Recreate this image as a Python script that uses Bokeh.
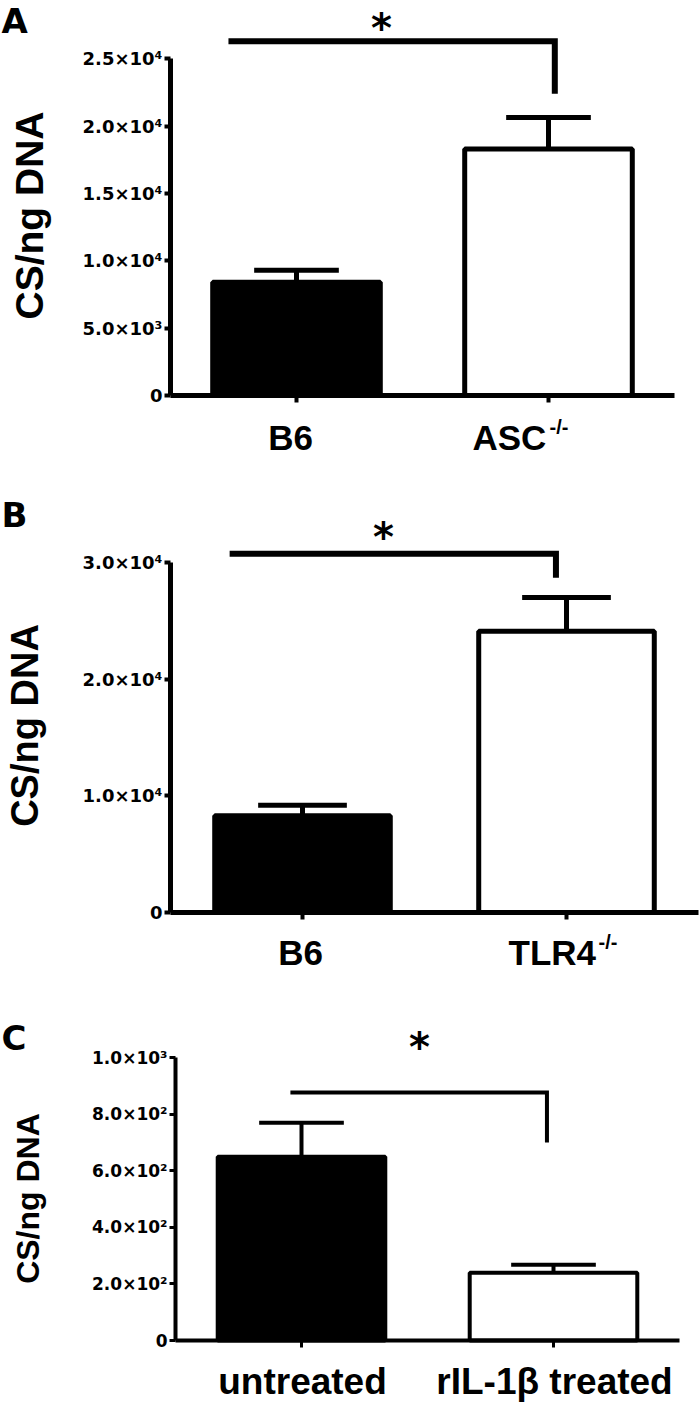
import math
from bokeh.plotting import figure
from bokeh.layouts import column
from bokeh.models import Range1d, FixedTicker
from bokeh.core.properties import value
from bokeh.embed import file_html
from bokeh.resources import INLINE

# ---------------- data ----------------
groups_x = [0.5, 1.5]
bar_fill = ["black", "white"]

# Panel A: B6 vs ASC-/-
a_means = [8400, 18300]
a_sem = [900, 2350]
a_ticks = [0, 5000, 10000, 15000, 20000, 25000]
a_tick_labels = ["0", "5.0×10³", "1.0×10⁴", "1.5×10⁴", "2.0×10⁴", "2.5×10⁴"]

# Panel B: B6 vs TLR4-/-
b_means = [8300, 24100]
b_sem = [900, 2900]
b_ticks = [0, 10000, 20000, 30000]
b_tick_labels = ["0", "1.0×10⁴", "2.0×10⁴", "3.0×10⁴"]

# Panel C: untreated vs rIL-1β treated
c_means = [650, 240]
c_sem = [120, 28]
c_ticks = [0, 200, 400, 600, 800, 1000]
c_tick_labels = ["0", "2.0×10²", "4.0×10²", "6.0×10²", "8.0×10²", "1.0×10³"]

# significance brackets (data coords): x0, x1, y, y_drop
a_sig = (0.23, 1.525, 26300, 22400)
b_sig = (0.224, 1.46, 30750, 28700)
c_sig = (0.456, 1.474, 877, 700)

PAGE_W = 700
LAB_FONT = "Liberation Sans"
TICK_FONT = "DejaVu Sans"
BASE_SHIFT = 0.37   # observed baseline drop of rendered text, in em


class Panel:
    """Geometry given in pixels of the 700x1403 picture."""

    def __init__(self, means, sems, ticks, tick_labels, sig, *, fig_top, fig_bot,
                 frame_l, frame_r, zero_y, top_tick_y, lw, err_lw, sig_lw, tick_fs):
        top_val = ticks[-1]
        self.frame_l = frame_l
        self.zero_y = zero_y
        self.ppx = (frame_r - frame_l) / 2.0
        self.ppy = (zero_y - top_tick_y) / top_val
        x_range = Range1d((0 - frame_l) / self.ppx, (PAGE_W - frame_l) / self.ppx)
        y_range = Range1d(-(fig_bot - zero_y) / self.ppy, (zero_y - fig_top) / self.ppy)
        p = figure(width=PAGE_W, height=int(fig_bot - fig_top),
                   x_range=x_range, y_range=y_range,
                   output_backend="svg", toolbar_location=None,
                   min_border=0, min_border_left=0, min_border_right=0,
                   min_border_top=0, min_border_bottom=0)
        p.outline_line_color = None
        p.xgrid.visible = False
        p.ygrid.visible = False
        p.background_fill_color = "white"
        p.border_fill_color = "white"

        ya = p.yaxis[0]
        ya.fixed_location = 0
        ya.ticker = FixedTicker(ticks=ticks)
        ya.major_label_overrides = {t: s for t, s in zip(ticks, tick_labels)}
        ya.bounds = (0, top_val)
        ya.axis_line_width = lw
        ya.axis_line_color = "black"
        ya.major_tick_line_width = lw - 1
        ya.major_tick_out = 6
        ya.major_tick_in = 0
        ya.minor_tick_line_color = None
        ya.major_label_standoff = 2
        ya.major_label_text_font = TICK_FONT
        ya.major_label_text_font_style = "bold"
        ya.major_label_text_font_size = f"{tick_fs}px"
        ya.major_label_text_color = "black"

        xa = p.xaxis[0]
        xa.fixed_location = 0
        xa.ticker = FixedTicker(ticks=groups_x)
        xa.major_label_overrides = {x: "" for x in groups_x}
        xa.bounds = (0, 2)
        xa.axis_line_width = lw
        xa.axis_line_color = "black"
        xa.major_tick_line_width = lw - 1
        xa.major_tick_out = 7
        xa.major_tick_in = 0
        xa.minor_tick_line_color = None

        p.vbar(x=groups_x, top=means, width=0.665, bottom=0,
               fill_color=bar_fill, line_color="black", line_width=lw)
        tops = [m + s for m, s in zip(means, sems)]
        p.segment(x0=groups_x, y0=means, x1=groups_x, y1=tops,
                  line_color="black", line_width=err_lw)
        p.segment(x0=[x - 0.168 for x in groups_x], y0=tops,
                  x1=[x + 0.168 for x in groups_x], y1=tops,
                  line_color="black", line_width=err_lw)
        x0, x1, ys, yd = sig
        p.line(x=[x0, x1, x1], y=[ys, ys, yd], line_color="black",
               line_width=sig_lw, line_join="miter")
        self.p = p

    def txt(self, text, px, py, size, font=LAB_FONT, align="left", angle=0.0):
        # (px, py): wanted position of the text's baseline anchor
        if angle:
            px = px - BASE_SHIFT * size
        else:
            py = py - BASE_SHIFT * size
        x = (px - self.frame_l) / self.ppx
        y = (self.zero_y - py) / self.ppy
        self.p.text(x=[x], y=[y], text=[text], text_font=value(font),
                    text_font_style="bold", text_font_size=value(f"{size}px"),
                    text_align=align, text_baseline="alphabetic", angle=angle,
                    text_color="black")


# ---------------- Panel A ----------------
A = Panel(a_means, a_sem, a_ticks, a_tick_labels, a_sig,
          fig_top=0, fig_bot=470, frame_l=170, frame_r=674,
          zero_y=395, top_tick_y=58.3, lw=5, err_lw=5, sig_lw=6, tick_fs=18)
A.txt("A", 1, 33, 34, font="DejaVu Sans")
A.txt("*", 381, 42, 40, font="DejaVu Sans", align="center")
A.txt("CS/ng DNA", 43, 215, 39, align="center", angle=math.pi / 2)
A.txt("B6", 290, 450, 35, align="center")
A.txt("ASC", 472, 450, 35)
A.txt("-/-", 549, 434, 20)

# ---------------- Panel B ----------------
B = Panel(b_means, b_sem, b_ticks, b_tick_labels, b_sig,
          fig_top=470, fig_bot=985, frame_l=170, frame_r=698,
          zero_y=912, top_tick_y=562, lw=5, err_lw=5, sig_lw=6, tick_fs=18)
B.txt("B", 1, 527, 34, font="DejaVu Sans")
B.txt("*", 383, 551, 40, font="DejaVu Sans", align="center")
B.txt("CS/ng DNA", 39, 725, 38, align="center", angle=math.pi / 2)
B.txt("B6", 300, 965, 35, align="center")
B.txt("TLR4", 508, 965, 35)
B.txt("-/-", 598, 949, 20)

# ---------------- Panel C ----------------
C = Panel(c_means, c_sem, c_ticks, c_tick_labels, c_sig,
          fig_top=985, fig_bot=1403, frame_l=175, frame_r=679,
          zero_y=1340, top_tick_y=1057.3, lw=4, err_lw=4, sig_lw=4, tick_fs=17)
C.txt("C", 1, 1050, 34, font="DejaVu Sans")
C.txt("*", 419, 1061, 40, font="DejaVu Sans", align="center")
C.txt("CS/ng DNA", 39, 1198, 32, align="center", angle=math.pi / 2)
C.txt("untreated", 302, 1395, 37, align="center")
C.txt("rIL-1β treated", 554, 1395, 37, align="center")

layout = column(A.p, B.p, C.p, spacing=0)
open("out.html", "w").write(file_html(layout, INLINE))
